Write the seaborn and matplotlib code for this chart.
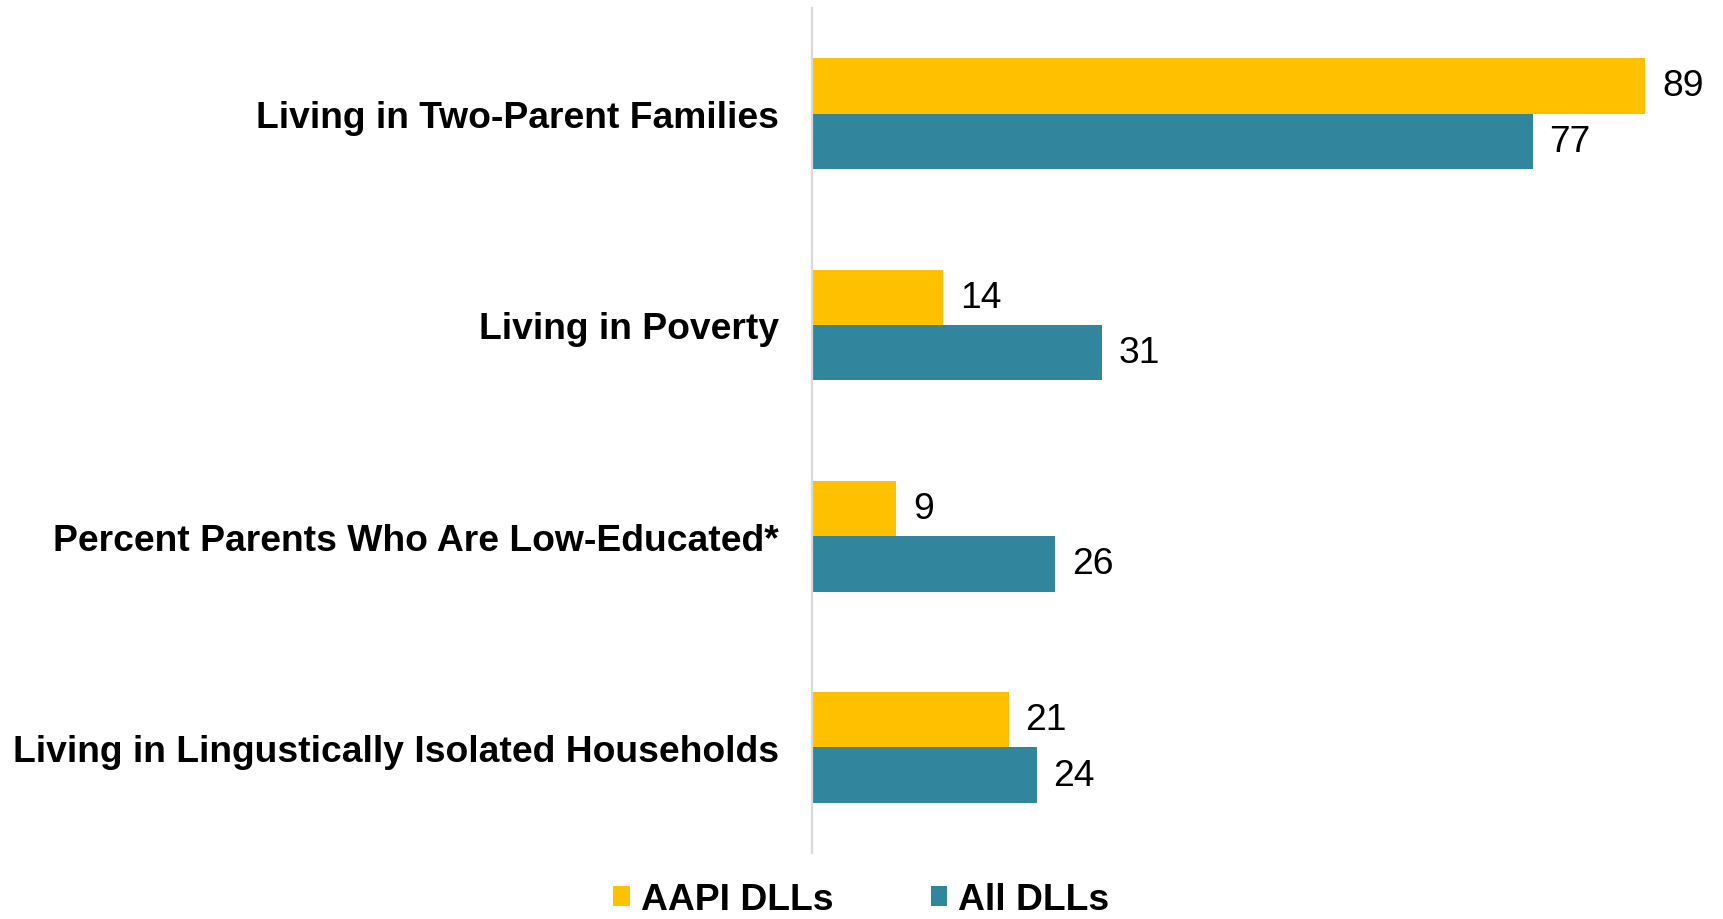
import matplotlib
matplotlib.use("Agg")
import matplotlib.pyplot as plt
import seaborn as sns
import pandas as pd
from matplotlib.patches import Patch

categories = [
    "Living in Two-Parent Families",
    "Living in Poverty",
    "Percent Parents Who Are Low-Educated*",
    "Living in Lingustically Isolated Households",
]
series_names = ["AAPI DLLs", "All DLLs"]
aapi_values = [89, 14, 9, 21]
all_values = [77, 31, 26, 24]
colors = {"AAPI DLLs": "#FFC000", "All DLLs": "#31859C"}

df = pd.DataFrame({
    "category": categories * 2,
    "group": [series_names[0]] * len(categories) + [series_names[1]] * len(categories),
    "value": aapi_values + all_values,
})

sns.set_theme(style="white")
plt.rcParams["font.family"] = ["Liberation Sans", "DejaVu Sans"]

FS = 26.8

fig = plt.figure(figsize=(17.23, 9.2), dpi=100)
ax = fig.add_axes([0.4713, 0.0717, 0.514, 0.9185])

sns.barplot(
    data=df, y="category", x="value", hue="group", order=categories,
    hue_order=series_names, palette=colors, orient="h", width=0.524,
    gap=0, dodge=True, saturation=1, legend=False, ax=ax, linewidth=0,
)

ax.set_xlim(0, 94.6)
ax.set_ylim(3.5, -0.5)
ax.set_xlabel("")
ax.set_ylabel("")
ax.set_xticks([])
for s in ["top", "right", "bottom"]:
    ax.spines[s].set_visible(False)
ax.spines["left"].set_color("#d9d9d9")
ax.spines["left"].set_linewidth(1.6)
ax.tick_params(axis="y", length=0, pad=24)
for lbl in ax.get_yticklabels():
    lbl.set_fontsize(FS)
    lbl.set_fontweight("bold")
    lbl.set_color("black")

for container in ax.containers:
    ax.bar_label(container, fmt="%d", padding=12, fontsize=FS, color="black")

handles = [Patch(facecolor=colors[n], edgecolor="none") for n in series_names]
fig.legend(
    handles, series_names, loc="center", bbox_to_anchor=(0.5, 1 - 901 / 920),
    ncol=2, frameon=False, handlelength=0.45, handleheight=0.45,
    handletextpad=0.3, columnspacing=2.6, labelcolor="black",
    prop={"size": FS, "weight": "bold"},
)

fig.savefig("out.png", dpi=100, facecolor="white")
